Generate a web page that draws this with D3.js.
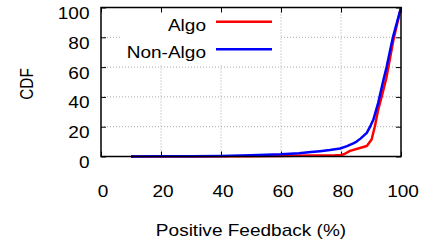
<!DOCTYPE html>
<html>
<head>
<meta charset="utf-8">
<script src="https://cdn.jsdelivr.net/npm/d3@7"></script>
<style>
  html, body { margin: 0; padding: 0; background: #fff; }
  svg { display: block; }
  text { font-family: "Liberation Sans", Arial, Helvetica, sans-serif; fill: #000; }
</style>
</head>
<body>
<svg id="chart" width="430" height="245"></svg>
<script>
// ---- data ----
const xTicks = [0, 20, 40, 60, 80, 100];
const yTicks = [0, 20, 40, 60, 80, 100];
const seriesNames = ["Algo", "Non-Algo"];
const seriesColors = ["#ff0000", "#0000ff"];

const algoX = [10, 30, 50, 60, 70, 78, 80, 81, 83, 86, 88.6, 90.2, 91.3, 92.4, 93.6, 95.1, 97.5, 100];
const algoY = [0, 0, 0.2, 0.4, 0.6, 0.8, 1.0, 1.5, 3.8, 5.5, 7.0, 11.4, 20.3, 31.5, 40.5, 52.5, 78.5, 100];

const nonAlgoX = [10, 20, 30, 40, 50, 60, 66, 70, 73, 76.3, 79.7, 82, 84.1, 85.2, 86.5, 88.6, 89.7, 90.8, 92.4, 94.1, 95.2, 97.3, 100];
const nonAlgoY = [0, 0.1, 0.2, 0.4, 0.8, 1.5, 2.2, 3.0, 3.6, 4.3, 5.4, 7.0, 8.8, 10.0, 12.0, 15.9, 20, 24.8, 36, 51, 60, 80, 100];

// ---- layout ----
const L = 101, R = 401, T = 7.5, B = 156.5;
const FS = 17, SX = 1.12;

const svg = d3.select("#chart");
const x = d3.scaleLinear().domain([0, 100]).range([L, R]);
const y = d3.scaleLinear().domain([0, 100]).range([B, T]);

// grid
const grid = svg.append("g").attr("stroke", "#a8a8a8").attr("stroke-width", 1).attr("stroke-dasharray", "1,2");
grid.selectAll(".gx").data(xTicks.filter(d => d > 0 && d < 100)).join("line")
  .attr("x1", d => x(d)).attr("x2", d => x(d)).attr("y1", B).attr("y2", T);
grid.selectAll(".gy").data(yTicks.filter(d => d > 0 && d < 100)).join("line")
  .attr("x1", L).attr("x2", R).attr("y1", d => y(d)).attr("y2", d => y(d));

// legend box (opaque)
svg.append("rect").attr("x", 122).attr("y", T).attr("width", 158).attr("height", 57.5).attr("fill", "#fff");

// ticks (inward, mirrored) via axes
function styleAxis(g) {
  g.select(".domain").remove();
  g.selectAll(".tick line").attr("stroke", "#000").attr("stroke-width", 1);
  g.selectAll("text").remove();
}
svg.append("g").attr("transform", `translate(0,${B})`).call(d3.axisBottom(x).tickValues(xTicks).tickSize(-5)).call(styleAxis);
svg.append("g").attr("transform", `translate(0,${T})`).call(d3.axisTop(x).tickValues(xTicks).tickSize(-5)).call(styleAxis);
svg.append("g").attr("transform", `translate(${L},0)`).call(d3.axisLeft(y).tickValues(yTicks).tickSize(-5)).call(styleAxis);
svg.append("g").attr("transform", `translate(${R},0)`).call(d3.axisRight(y).tickValues(yTicks).tickSize(-5)).call(styleAxis);

// tick labels
svg.append("g").selectAll("text").data(xTicks).join("text")
  .attr("text-anchor", "middle").attr("font-size", FS)
  .attr("transform", d => `translate(${x(d) + 2},196.5) scale(${SX},1)`)
  .text(d => d);
svg.append("g").selectAll("text").data(yTicks).join("text")
  .attr("text-anchor", "end").attr("font-size", FS)
  .attr("transform", d => `translate(89.5,${y(d) + 11.5}) scale(${SX},1)`)
  .text(d => d);

// axis titles
svg.append("text").attr("text-anchor", "middle").attr("font-size", FS)
  .attr("transform", `translate(251,235.5) scale(${SX},1)`)
  .text("Positive Feedback (%)");
svg.append("text").attr("text-anchor", "middle").attr("font-size", FS)
  .attr("transform", `translate(32.5,84) rotate(-90) scale(0.9,1.1)`)
  .text("CDF");

// lines
const line = d3.line().x(d => x(d[0])).y(d => y(d[1]));
const algo = algoX.map((v, i) => [v, algoY[i]]);
const nonAlgo = nonAlgoX.map((v, i) => [v, nonAlgoY[i]]);
[algo, nonAlgo].forEach((data, i) => {
  svg.append("path").datum(data).attr("d", line)
    .attr("fill", "none").attr("stroke", seriesColors[i]).attr("stroke-width", 2.5)
    .attr("stroke-linejoin", "round");
});

// frame
svg.append("rect").attr("x", L).attr("y", T).attr("width", R - L).attr("height", B - T)
  .attr("fill", "none").attr("stroke", "#000").attr("stroke-width", 1.5);

// legend
const legY = [21.7, 49.3];
seriesNames.forEach((name, i) => {
  svg.append("text").attr("text-anchor", "end").attr("font-size", FS)
    .attr("transform", `translate(206,${legY[i] + 9}) scale(${SX},1)`)
    .text(name);
  svg.append("line").attr("x1", 216).attr("x2", 272).attr("y1", legY[i]).attr("y2", legY[i])
    .attr("stroke", seriesColors[i]).attr("stroke-width", 2.5);
});
</script>
</body>
</html>
